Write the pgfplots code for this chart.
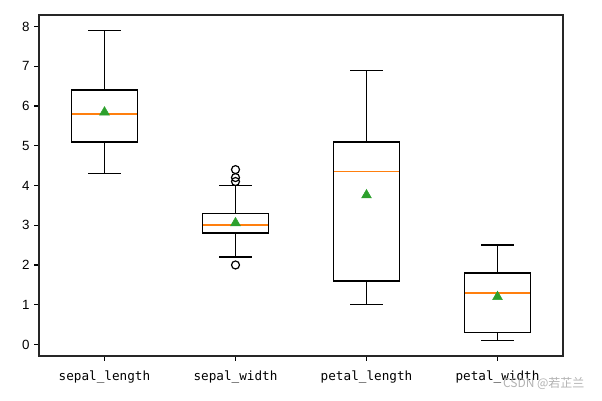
\documentclass[border=0pt]{standalone}
\usepackage{fontspec}
\setmainfont{Liberation Sans}
\newfontfamily\monof{DejaVu Sans Mono}
\newfontfamily\cjk{Noto Sans CJK SC}
\usepackage{pgfplots}
\pgfplotsset{compat=1.18}
\usepgfplotslibrary{statistics}
\definecolor{mplorange}{HTML}{FF7F0E}
\definecolor{mplgreen}{HTML}{2CA02C}
\pgfplotsset{
  mybox/.style={black, line width=1.1pt, mark=o, mark size=3pt,
    mark options={line width=0.9pt, black, solid}},
}
\begin{document}
\begin{tikzpicture}
\useasboundingbox (-29.25pt,-33pt) rectangle (422.25pt,267pt);
\begin{axis}[
  at={(0,0)}, anchor=south west,
  scale only axis, width=393pt, height=255.75pt,
  xmin=0.5, xmax=4.5, ymin=-0.29, ymax=8.29,
  xtick={1,2,3,4},
  xticklabels={sepal\_length,sepal\_width,petal\_length,petal\_width},
  xticklabel style={font=\monof\fontsize{9.5}{11}\selectfont, yshift=-4pt},
  ytick={0,1,2,3,4,5,6,7,8},
  yticklabel style={font=\fontsize{10}{12}\selectfont},
  /pgf/number format/assume math mode=true,
  tick align=outside, xtick pos=bottom, ytick pos=left,
  major tick length=3.6pt,
  tick style={black, line width=0.9pt},
  axis line style={line width=0.9pt, black!85},
  clip=false,
  boxplot/draw direction=y,
  boxplot/every box/.style={draw=black, line width=1.1pt},
  boxplot/every whisker/.style={draw=black, line width=1.1pt},
  boxplot/every median/.style={draw=mplorange, line width=1.3pt},
]
\addplot[mybox,
  boxplot prepared={draw position=1, lower whisker=4.3, lower quartile=5.1, median=5.8,
  upper quartile=6.4, upper whisker=7.9, box extend=0.5, whisker extend=0.25}]
  coordinates {};
\addplot[mybox,
  boxplot prepared={draw position=2, lower whisker=2.2, lower quartile=2.8, median=3.0,
  upper quartile=3.3, upper whisker=4.0, box extend=0.5, whisker extend=0.25}]
  coordinates {(0,4.4) (0,4.1) (0,4.2) (0,2.0)};
\addplot[mybox,
  boxplot prepared={draw position=3, lower whisker=1.0, lower quartile=1.6, median=4.35,
  upper quartile=5.1, upper whisker=6.9, box extend=0.5, whisker extend=0.25}]
  coordinates {};
\addplot[mybox,
  boxplot prepared={draw position=4, lower whisker=0.1, lower quartile=0.3, median=1.3,
  upper quartile=1.8, upper whisker=2.5, box extend=0.5, whisker extend=0.25}]
  coordinates {};
\addplot[only marks, mark=triangle*, mark size=4.2pt, color=mplgreen]
  coordinates {(1,5.843) (2,3.057) (3,3.758) (4,1.199)};
\node[anchor=east, text=gray!60, font=\cjk\fontsize{9}{11}\selectfont]
  at (rel axis cs:1.05,-0.081) {CSDN @若芷兰};
\end{axis}
\end{tikzpicture}
\end{document}
